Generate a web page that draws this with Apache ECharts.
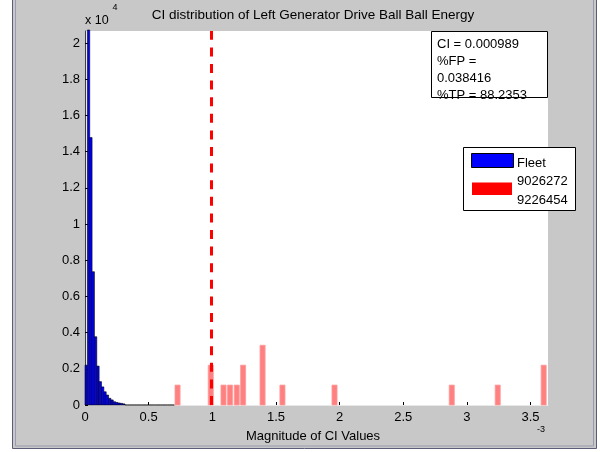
<!DOCTYPE html>
<html>
<head>
<meta charset="utf-8">
<script src="https://cdn.jsdelivr.net/npm/echarts@6/dist/echarts.min.js"></script>
<style>
html,body{margin:0;padding:0;background:#ffffff;}
#chart{width:600px;height:452px;}
</style>
</head>
<body>
<div id="chart"></div>
<script>
// ---- data (x values in units of 1e-3, counts as plotted) ----
const TITLE = 'CI distribution of Left Generator Drive Ball Ball Energy';
const X_NAME = 'Magnitude of CI Values';
const X_TICKS = ['0', '0.5', '1', '1.5', '2', '2.5', '3', '3.5'];
const Y_TICKS = ['0', '0.2', '0.4', '0.6', '0.8', '1', '1.2', '1.4', '1.6', '1.8', '2'];

// Fleet histogram: bin width and counts (first bin starts at 0)
const fleetBinWidth = 0.0185;
const fleetCounts = [2200, 26000, 14770, 7360, 3770, 2150, 1290, 1000, 730, 550,
  370, 280, 180, 140, 110, 90, 60,
  0, 0, 0, 0, 0, 0, 0, 0, 0, 0, 0, 0, 0, 0, 0, 0, 0, 0, 0, 0, 0];

// Selected units (9026272 / 9226454): bar centers and heights
const unitCenters = [0.727, 0.988, 1.088, 1.139, 1.192, 1.242, 1.395, 1.551, 1.960, 2.881, 3.242, 3.603];
const unitHeights = [1100, 2200, 1100, 1100, 1100, 2200, 3300, 1100, 1100, 1100, 1100, 2200];
const unitBarWidth = 0.04;

// Threshold and stats
const CI_VALUE = 0.989;
const STATS_LINES = ['CI = 0.000989', '%FP =', '0.038416', '%TP = 88.2353'];
const LEGEND_NAMES = ['Fleet', '9026272', '9226454'];

const X_MAX = 3.637;
const Y_MAX = 20660;

// ---- build ----
const fleetData = fleetCounts.map((c, i) => [i * fleetBinWidth, (i + 1) * fleetBinWidth, c]);
const unitData = unitCenters.map((c, i) => [c - unitBarWidth / 2, c + unitBarWidth / 2, unitHeights[i]]);

const FONT = "'Liberation Sans', Arial, sans-serif";

function barRenderer(fill, stroke, lw) {
  return function (params, api) {
    const p0 = api.coord([api.value(0), 0]);
    const p1 = api.coord([api.value(1), api.value(2)]);
    const rect = echarts.graphic.clipRectByRect({
      x: p0[0], y: p1[1], width: p1[0] - p0[0], height: p0[1] - p1[1]
    }, {
      x: params.coordSys.x, y: params.coordSys.y - 1,
      width: params.coordSys.width, height: params.coordSys.height + 1
    });
    if (!rect) return;
    return {
      type: 'rect',
      shape: rect,
      style: { fill: fill, stroke: stroke, lineWidth: lw }
    };
  };
}

const chart = echarts.init(document.getElementById('chart'), null, { renderer: 'canvas' });

const option = {
  backgroundColor: '#ffffff',
  animation: false,
  textStyle: { fontFamily: FONT },
  grid: { left: 85, top: 31, right: 52, bottom: 47, show: true, backgroundColor: '#ffffff', borderWidth: 0 },
  xAxis: {
    type: 'value', min: 0, max: X_MAX, interval: 0.5,
    axisLine: { show: true, lineStyle: { color: '#e8e8e8', width: 1 } },
    axisTick: { show: true, inside: true, length: 3, lineStyle: { color: '#000000' } },
    splitLine: { show: false },
    axisLabel: {
      color: '#000000', fontSize: 13, fontFamily: FONT, margin: 6, showMaxLabel: false,
      formatter: function (v) { const i = Math.round(v / 0.5); return X_TICKS[i] !== undefined ? X_TICKS[i] : ''; }
    }
  },
  yAxis: {
    type: 'value', min: 0, max: Y_MAX, interval: 2000,
    axisLine: { show: true, lineStyle: { color: '#404040', width: 1 } },
    axisTick: { show: true, inside: true, length: 3, lineStyle: { color: '#000000' } },
    splitLine: { show: false },
    axisLabel: {
      color: '#000000', fontSize: 13, fontFamily: FONT, margin: 5, showMaxLabel: false,
      formatter: function (v) { const i = Math.round(v / 2000); return Y_TICKS[i] !== undefined ? Y_TICKS[i] : ''; }
    }
  },
  series: [
    {
      type: 'custom', name: 'Fleet', data: fleetData, z: 3,
      renderItem: barRenderer('#0000ff', '#000000', 0.6),
      encode: { x: [0, 1], y: 2 }
    },
    {
      type: 'custom', name: 'units', data: unitData, z: 3,
      renderItem: barRenderer('#ff8080', '#ff9a9a', 0.8),
      encode: { x: [0, 1], y: 2 },
      markLine: {
        silent: true, symbol: ['none', 'none'], z: 10,
        label: { show: false },
        lineStyle: { color: '#ff0000', width: 3, type: [9, 7.6] },
        data: [{ xAxis: CI_VALUE }]
      }
    }
  ],
  graphic: [
    // window frame and gray figure background
    { type: 'rect', z: -100, silent: true, shape: { x: 12.5, y: -5, width: 584, height: 453.5 },
      style: { fill: '#c8c8c8', stroke: '#5c5c78', lineWidth: 1 } },
    { type: 'rect', z: -99, silent: true, shape: { x: 15.5, y: -5, width: 578, height: 451 },
      style: { fill: 'none', stroke: '#9a9ab0', lineWidth: 1 } },
    // title
    { type: 'text', silent: true, z: 50,
      style: { text: TITLE, x: 313, y: 15, align: 'center', verticalAlign: 'middle', fill: '#000', font: '13.5px ' + FONT } },
    // exponent of y
    { type: 'text', silent: true, z: 50,
      style: { text: 'x 10', x: 85, y: 21, align: 'left', verticalAlign: 'middle', fill: '#000', font: '12.5px ' + FONT } },
    { type: 'text', silent: true, z: 50,
      style: { text: '4', x: 112.5, y: 8, align: 'left', verticalAlign: 'middle', fill: '#000', font: '9px ' + FONT } },
    // exponent of x
    { type: 'text', silent: true, z: 50,
      style: { text: '-3', x: 537, y: 430, align: 'left', verticalAlign: 'middle', fill: '#000', font: '9px ' + FONT } },
    // x axis name
    { type: 'text', silent: true, z: 50,
      style: { text: X_NAME, x: 313, y: 436, align: 'center', verticalAlign: 'middle', fill: '#000', font: '13px ' + FONT } },
    // stats box
    { type: 'rect', silent: true, z: 60, shape: { x: 431.5, y: 31.5, width: 116, height: 66 },
      style: { fill: '#ffffff', stroke: '#000000', lineWidth: 1 } },
    { type: 'text', silent: true, z: 61,
      style: { text: STATS_LINES.join('\n'), x: 437, y: 35.5, align: 'left', verticalAlign: 'top',
        lineHeight: 17, fill: '#000', font: '13px ' + FONT } },
    // legend box
    { type: 'rect', silent: true, z: 60, shape: { x: 463.5, y: 147.5, width: 112, height: 63 },
      style: { fill: '#ffffff', stroke: '#000000', lineWidth: 1 } },
    { type: 'rect', silent: true, z: 61, shape: { x: 471.5, y: 153.5, width: 42, height: 14 },
      style: { fill: '#0000ff', stroke: '#000000', lineWidth: 1 } },
    { type: 'rect', silent: true, z: 61, shape: { x: 472, y: 182.5, width: 40, height: 12.5 },
      style: { fill: '#ff0000' } },
    { type: 'text', silent: true, z: 61,
      style: { text: LEGEND_NAMES[0], x: 517, y: 163, align: 'left', verticalAlign: 'middle', fill: '#000', font: '13px ' + FONT } },
    { type: 'text', silent: true, z: 61,
      style: { text: LEGEND_NAMES[1] + '\n' + LEGEND_NAMES[2], x: 517, y: 191, align: 'left', verticalAlign: 'middle',
        lineHeight: 18.5, fill: '#000', font: '13px ' + FONT } }
  ]
};
chart.setOption(option);
</script>
</body>
</html>
